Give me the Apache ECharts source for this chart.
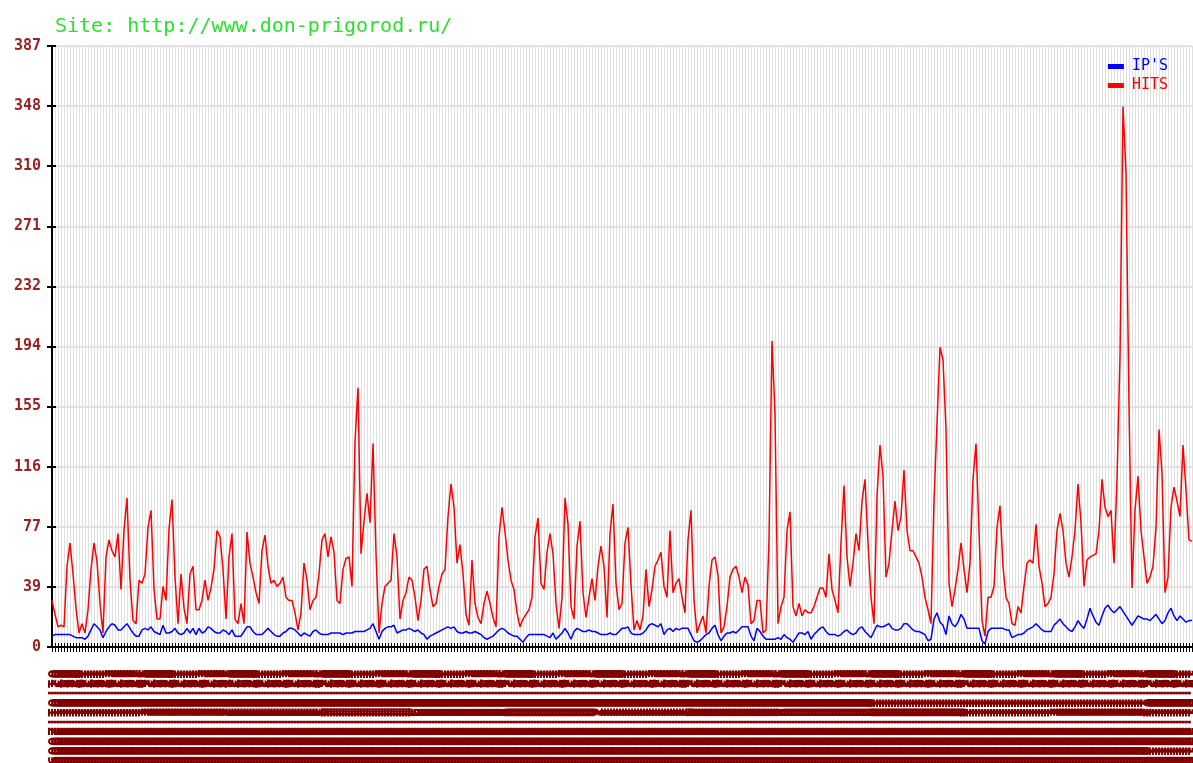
<!DOCTYPE html>
<html><head><meta charset="utf-8">
<script src="https://cdn.jsdelivr.net/npm/echarts@6/dist/echarts.min.js"></script>
<style>html,body{margin:0;padding:0;background:#fff}#c{width:1193px;height:763px}</style>
</head><body><div id="c"></div>
<script>
const titleText = 'Site: http://www.don-prigorod.ru/';
const seriesNames = ["IP'S", 'HITS'];
const yTickLabels = ['0','39','77','116','155','194','232','271','310','348','387'];
const yMax = 387;
const yStep = 38.7;
const firstDate = '2009-01-01';

const hits = [
30,21,13,14,13,52,67,47,25,9, 15,9,24,50,67,55,28,9,58,69,
62,58,73,37,75,96,43,17,15,43, 41,47,77,88,37,18,18,39,30,76,
95,45,15,47,25,15,47,52,24,24, 30,43,30,38,50,75,71,50,18,58,
73,18,15,28,15,74,54,45,35,28, 62,72,52,41,43,39,41,45,32,30,
30,22,11,22,54,43,24,30,32,47, 69,73,58,71,61,30,28,50,57,58,
39,132,167,60,81,99,80,131,60,9, 28,39,41,43,73,58,18,30,35,45,
43,32,17,30,50,52,37,26,28,39, 47,50,84,105,90,54,66,47,21,14,
56,28,19,15,28,36,28,19,13,71, 90,74,56,43,37,22,13,18,21,24,
32,71,83,41,37,61,73,60,28,12, 32,96,79,26,18,65,81,35,19,32,
44,30,52,65,52,19,73,92,41,24, 28,67,77,40,11,17,11,20,50,26,
37,52,56,61,39,32,75,35,41,44, 32,22,69,88,30,9,15,20,9,39,
56,58,46,9,13,26,45,50,52,45, 35,45,40,15,17,30,30,9,11,69,
197,150,15,26,32,75,87,26,20,28, 20,24,22,22,26,32,38,38,32,60,
37,30,22,67,104,58,39,54,73,62, 94,108,67,32,15,97,130,110,45,54,
75,94,75,84,114,75,62,62,58,54, 45,32,24,15,94,144,193,185,140,41,
26,37,50,67,50,35,54,108,131,75, 17,7,32,32,39,77,91,52,32,28,
15,14,26,22,39,54,56,54,79,52, 41,26,28,32,47,75,86,75,54,45,
58,75,105,80,39,56,58,59,60,75, 108,90,84,88,54,108,187,348,305,155,
38,88,110,75,58,41,45,52,77,140, 112,35,45,90,103,94,84,130,101,69,
68
];

const ips = [
7,8,8,8,8,8,8,7,6,6, 6,5,7,11,15,13,11,6,10,13,
15,14,11,11,13,15,12,9,7,7, 11,12,11,13,10,9,8,14,9,9,
10,12,9,8,9,12,9,12,8,12, 9,10,13,12,10,9,9,11,10,8,
11,7,7,7,10,13,13,10,8,8, 8,10,12,10,8,7,7,9,10,12,
12,11,9,7,9,8,7,10,11,9, 8,8,8,9,9,9,9,8,9,9,
9,10,10,10,10,11,12,15,10,5, 10,12,13,13,14,9,10,11,11,12,
11,10,11,9,8,5,7,8,9,10, 11,12,13,12,13,10,9,9,10,9,
9,10,9,8,6,5,6,7,9,11, 12,11,9,8,7,7,5,3,6,8,
8,8,8,8,8,7,6,9,5,7, 9,12,9,5,10,12,11,10,10,11,
10,10,9,8,8,8,9,8,8,10, 12,12,13,9,8,8,8,9,11,14,
15,14,13,15,8,11,12,10,12,11, 12,12,12,8,4,3,4,6,8,9,
12,14,8,4,7,9,9,10,9,11, 13,13,13,7,4,12,10,7,5,5,
5,5,6,5,8,6,5,3,6,9, 9,8,10,5,8,10,12,13,10,8,
8,8,7,8,10,11,9,8,9,12, 13,10,8,6,10,14,13,13,14,15,
12,11,11,12,15,15,13,11,10,10, 9,8,4,5,18,22,16,14,8,20,
15,13,16,21,18,12,12,12,12,12, 4,2,10,12,12,12,12,12,11,11,
6,7,8,8,9,11,12,13,15,13, 11,10,10,10,14,16,18,15,13,11,
10,13,17,14,12,18,25,20,16,14, 20,25,27,24,22,24,26,23,20,17,
14,17,20,19,18,18,17,19,21,18, 15,17,22,25,20,17,20,18,16,17,
17
];

// category labels: consecutive days starting at firstDate
const categories = [];
(function(){
  const p = firstDate.split('-').map(Number);
  for (let i = 0; i < hits.length; i++) {
    const d = new Date(Date.UTC(p[0], p[1]-1, p[2] + i));
    const dd = String(d.getUTCDate()).padStart(2,'0');
    const mm = String(d.getUTCMonth()+1).padStart(2,'0');
    categories.push(dd + '.' + mm + '.' + d.getUTCFullYear());
  }
})();

const chart = echarts.init(document.getElementById('c'), null, {renderer:'canvas'});
const mono = 'DejaVu Sans Mono';
chart.setOption({
  animation: false,
  backgroundColor: '#ffffff',
  title: {
    text: titleText, left: 50, top: 12,
    textStyle: {fontFamily: mono, fontSize: 20, fontWeight: 'normal', color: '#2ee02e'}
  },
  legend: {
    orient: 'vertical', right: 20, top: 54, itemWidth: 16, itemHeight: 5, itemGap: 4,
    icon: 'rect',
    data: [
      {name: seriesNames[0], textStyle: {color: '#0000ff'}},
      {name: seriesNames[1], textStyle: {color: '#ff0000'}}
    ],
    textStyle: {fontFamily: mono, fontSize: 15, padding: [0,0,0,3]}
  },
  grid: {left: 52, top: 46, right: 1, bottom: 116, containLabel: false, outerBoundsMode: 'none'},
  xAxis: [{
    type: 'category', data: categories, boundaryGap: false,
    axisLine: {lineStyle: {color: '#000', width: 2}},
    axisTick: {show: true, interval: 0, length: 5, lineStyle: {color: '#000'}},
    axisLabel: {interval: 0, rotate: -90, margin: 22, color: '#800000',
      fontFamily: mono, fontSize: 16, fontWeight: 'bold', hideOverlap: false},
    splitLine: {show: true, interval: 0, lineStyle: {color: '#e0e0e0', width: 1}}
  }, {
    type: 'category', data: categories, boundaryGap: false, position: 'bottom',
    axisLine: {show: false},
    axisTick: {show: true, inside: true, interval: 0, length: 4, lineStyle: {color: '#000'}},
    axisLabel: {show: false}, splitLine: {show: false}
  }],
  yAxis: [{
    type: 'value', min: 0, max: yMax, interval: yStep,
    axisLine: {show: true, lineStyle: {color: '#000', width: 2}},
    axisTick: {show: true, length: 5, lineStyle: {color: '#000', width: 2}},
    axisLabel: {margin: 11, color: '#992222', fontFamily: mono, fontSize: 15, fontWeight: 'bold',
      formatter: v => yTickLabels[Math.round(v / yStep)]},
    splitLine: {show: true, lineStyle: {color: '#e2e2e2', width: 2}}
  }, {
    type: 'value', min: 0, max: yMax, interval: yStep, position: 'left',
    axisLine: {show: false},
    axisTick: {show: true, inside: true, length: 4, lineStyle: {color: '#000', width: 2}},
    axisLabel: {show: false}, splitLine: {show: false}
  }],
  series: [
    {name: seriesNames[0], type: 'line', data: ips, xAxisIndex: 0, yAxisIndex: 0,
      showSymbol: false, symbol: 'none', lineStyle: {color: '#0000ff', width: 1.5}, itemStyle: {color: '#0000ff'}, z: 3},
    {name: seriesNames[1], type: 'line', data: hits, xAxisIndex: 0, yAxisIndex: 0,
      showSymbol: false, symbol: 'none', lineStyle: {color: '#ff0000', width: 1.5}, itemStyle: {color: '#ff0000'}, z: 2}
  ]
});
</script>
</body></html>
